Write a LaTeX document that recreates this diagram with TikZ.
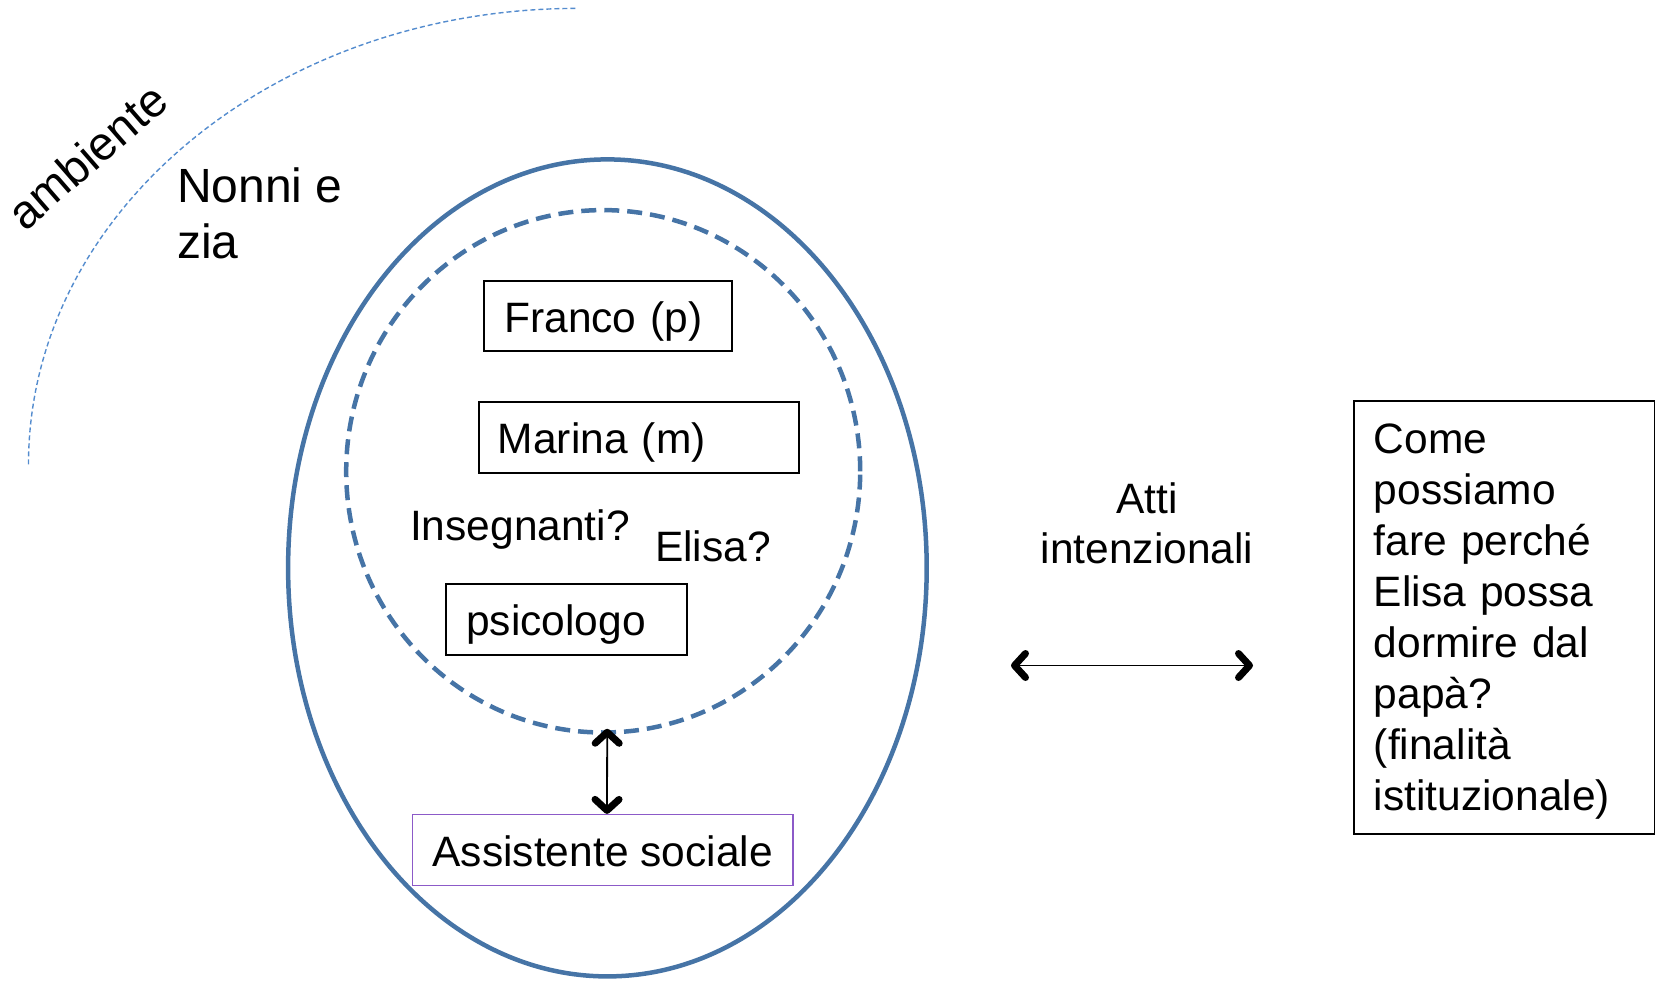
\documentclass[tikz,border=0pt]{standalone}
\usepackage{fontspec}
\setmainfont{Liberation Sans}
\usetikzlibrary{shapes.geometric,arrows.meta}
\definecolor{ringblue}{RGB}{70,116,166}
\definecolor{arcblue}{RGB}{84,140,206}
\definecolor{boxpurple}{RGB}{140,90,200}
\tikzset{
  txt/.style={font=\fontsize{42.5}{51}\selectfont, inner sep=0pt},
  framed/.style={txt, draw=black, line width=1.8pt, rectangle, align=left, inner xsep=20pt},
  pbox/.style={framed, minimum height=70.7pt, text height=34pt, text depth=2pt},
  ring/.style={ellipse, draw=ringblue, line width=4.5pt, inner sep=0pt},
  barb/.tip={Straight Barb[length=11pt,width=24pt,line width=7pt 0,round]},
  twoway/.style={line width=1.8pt, barb-barb}
}
\begin{document}
\begin{tikzpicture}[x=1pt,y=-1pt]
\useasboundingbox (0,0) rectangle (1655,982);
% environment arc
\draw[arcblue, line width=1.4pt, dash pattern=on 5pt off 3pt]
  (28.5,464.4) arc[start angle=180, end angle=90, x radius=548.9pt, y radius=456pt];
\node[txt, rotate=41, font=\fontsize{47}{56}\selectfont] (amb) at (87,156) {ambiente};
\node[txt, anchor=west, align=left, font=\fontsize{48}{56}\selectfont] (nonni) at (177,213) {Nonni e\\zia};
% rings
\node[ring, minimum width=638.6pt, minimum height=817pt] (outer) at (607.4,567.9) {};
\node[ring, dash pattern=on 15pt off 8pt, minimum width=514pt, minimum height=522.4pt] (inner) at (603.2,471.3) {};
% boxes
\node[pbox, anchor=west, text width=208pt] (franco) at (483.4,316) {Franco (p)};
\node[pbox, anchor=west, text width=282pt, inner xsep=19pt] (marina) at (478,437.6) {Marina (m)};
\node[pbox, anchor=west, text width=200.6pt] (psic) at (445.4,619.6) {psicologo};
\node[pbox, draw=boxpurple, line width=1.5pt, align=center, minimum width=380pt] (asst) at (602.7,850) {Assistente sociale};
\node[txt, anchor=base] (ins) at (520,540) {Insegnanti?};
\node[txt, anchor=base] (elisa) at (713,561) {Elisa?};
% right side
\node[txt, align=center, font=\fontsize{42.5}{50.6}\selectfont] (atti) at (1147,523.5) {Atti\\intenzionali};
\node[framed, anchor=north west, text width=261pt, minimum height=433pt] (quest) at (1353,400)
  {\rule{0pt}{38pt}Come\\possiamo\\fare perché\\Elisa possa\\dormire dal\\papà?\\(finalità\\istituzionale)};
% connectors
\coordinate (hl) at (1011,665.5);
\coordinate (hr) at (1253,665.5);
\draw[twoway] (hl) -- (hr);
\draw[twoway, shorten <=-6pt] ([xshift=4pt]inner.south) -- ([xshift=4.3pt]asst.north);
\end{tikzpicture}
\end{document}
